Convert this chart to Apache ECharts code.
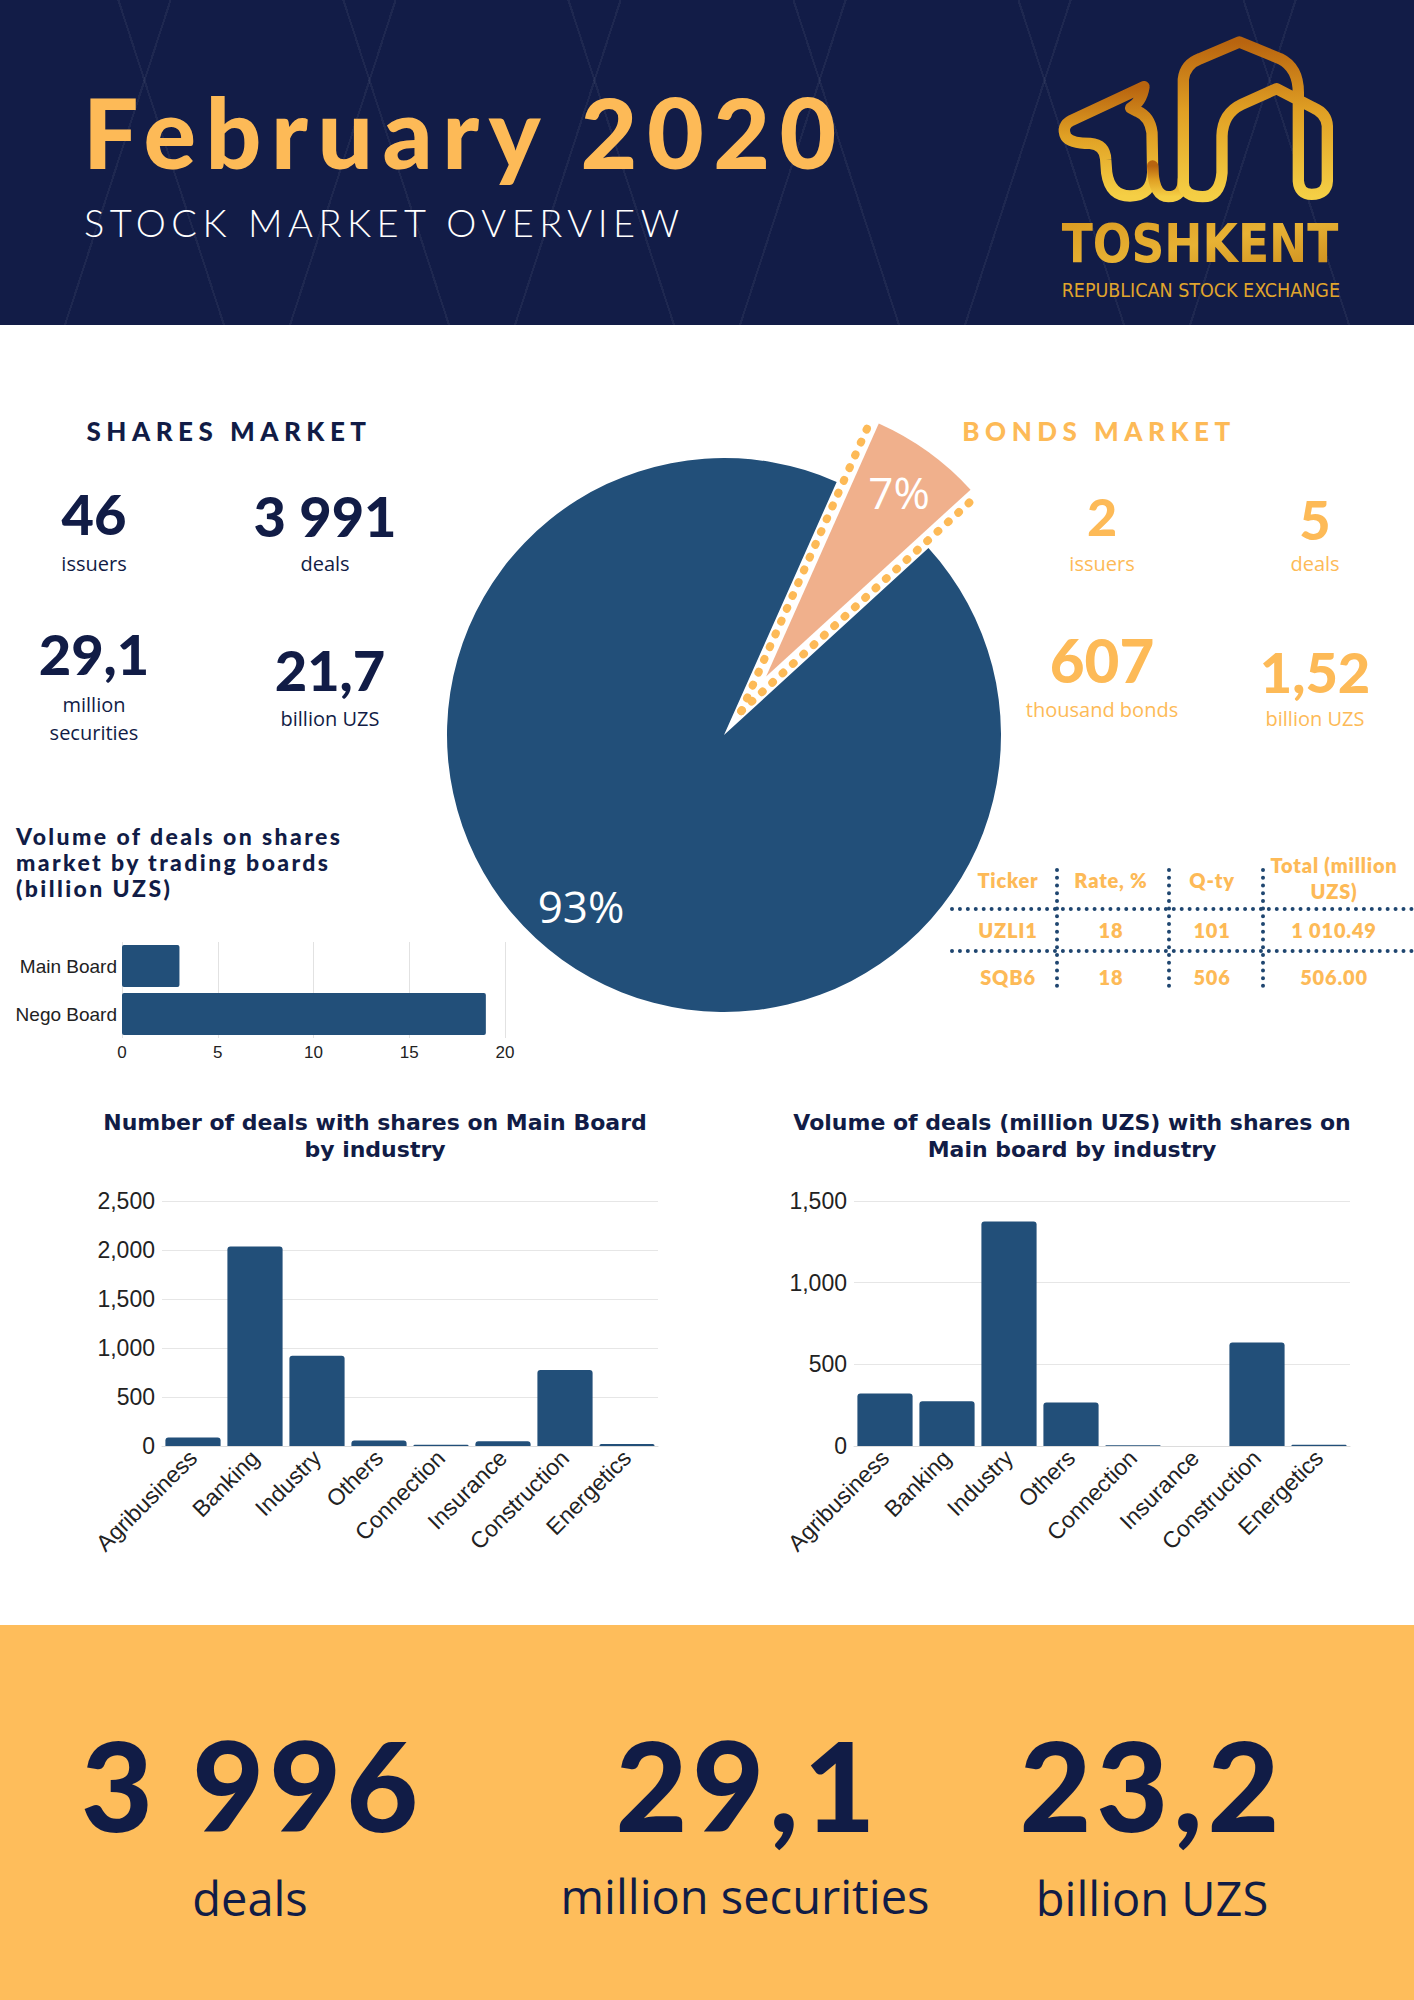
<!DOCTYPE html>
<html>
<head>
<meta charset="utf-8">
<script src="https://cdn.jsdelivr.net/npm/echarts@6/dist/echarts.min.js"></script>
<style>
  body { margin: 0; width: 1414px; height: 2000px; position: relative; overflow: hidden; background: #fff; font-family: Lato, sans-serif; }
  .abs { position: absolute; }
  .c { position: absolute; transform: translate(-50%, -50%); white-space: nowrap; line-height: 1; }
  .num { font-family: Lato, sans-serif; font-weight: 900; color: #111c46; }
  .lbl { font-family: 'Open Sans', sans-serif; font-size: 20px; color: #111c46; }
  .orange { color: #fdba57; }
  .head { font-family: Lato, sans-serif; font-weight: 900; font-size: 26px; letter-spacing: 5.5px; }
  .tb { font-family: Lato, sans-serif; font-weight: 800; font-size: 20px; letter-spacing: 0.8px; color: #fdba57; text-align: center; }
  .hdot { position: absolute; left: 950px; width: 464px; height: 0; border-top: 4px dotted #1f4670; }
  .vdot { position: absolute; top: 868px; height: 120px; width: 0; border-left: 4px dotted #1f4670; }
  #header {
    left: 0; top: 0; width: 1414px; height: 325px; background-color: #121c47;
    background-image:
      repeating-linear-gradient(72deg, rgba(255,255,255,0) 0 212px, rgba(255,255,255,0.05) 212px 214px),
      repeating-linear-gradient(-72deg, rgba(255,255,255,0) 0 212px, rgba(255,255,255,0.05) 212px 214px);
  }
  #banner { left: 0; top: 1625px; width: 1414px; height: 375px; background: #febd5b; }
  .big { font-family: Lato, sans-serif; font-weight: 900; font-size: 124px; letter-spacing: 5px; color: #111c46; }
  .bigl { font-family: 'Open Sans', sans-serif; font-size: 47px; color: #111c46; }
</style>
</head>
<body>
<div id="header" class="abs"></div>
<div class="abs" style="left:83px;top:82px;font-family:Lato;font-weight:900;font-size:98px;letter-spacing:9.5px;color:#fdba57;line-height:1;">February 2020</div>
<div class="abs" style="left:84px;top:203px;font-family:Lato;font-weight:300;font-size:38px;letter-spacing:5.5px;color:#fff;line-height:1;">STOCK MARKET OVERVIEW</div>

<svg class="abs" style="left:1040px;top:26px" width="320" height="290" viewBox="0 0 960 870">
  <defs>
    <linearGradient id="gold" x1="0" y1="0" x2="0" y2="1">
      <stop offset="0" stop-color="#b8640f"/>
      <stop offset="0.45" stop-color="#e0a024"/>
      <stop offset="1" stop-color="#f5cf45"/>
    </linearGradient>
    <linearGradient id="goldt" x1="0" y1="0" x2="1" y2="1">
      <stop offset="0" stop-color="#d9981f"/>
      <stop offset="0.5" stop-color="#e8b234"/>
      <stop offset="1" stop-color="#c98a1c"/>
    </linearGradient>
  </defs>
  <g fill="none" stroke="url(#gold)" stroke-width="34" stroke-linecap="round" stroke-linejoin="round">
    <path d="M312,182 L95,283 Q62,300 78,332 Q92,352 150,352 Q195,356 197,400 L200,440 Q210,510 270,510 Q335,510 338,440 L336,320 Q330,272 292,256 L272,246 Q305,228 312,182"/>
    <path d="M338,420 Q340,512 385,512 Q430,512 430,460"/>
    <path d="M430,470 L430,160 Q435,115 480,98 L598,48 L720,98 Q775,125 775,200 L775,465 Q778,505 815,505 Q860,505 862,465 L862,300 Q860,262 820,245 L710,188 L605,235 Q548,262 546,330 L546,440 Q540,512 488,512 Q430,512 430,470"/>
  </g>
  <text x="65" y="709" textLength="830" lengthAdjust="spacingAndGlyphs" font-family="DejaVu Sans Condensed, DejaVu Sans" font-weight="bold" font-size="158" fill="url(#goldt)">TOSHKENT</text>
  <text x="65" y="814" textLength="835" lengthAdjust="spacingAndGlyphs" font-family="DejaVu Sans Condensed, DejaVu Sans" font-size="56" fill="#e0a52c">REPUBLICAN STOCK EXCHANGE</text>
</svg>

<div id="pie" class="abs" style="left:400px;top:380px;width:660px;height:680px;"></div>

<div class="c head" style="left:229px;top:431px;color:#111c46;">SHARES MARKET</div>
<div class="c num" style="left:94px;top:514px;font-size:56px;">46</div>
<div class="c lbl" style="left:94px;top:564px;">issuers</div>
<div class="c num" style="left:325px;top:516px;font-size:56px;">3 991</div>
<div class="c lbl" style="left:325px;top:564px;">deals</div>
<div class="c num" style="left:94px;top:654px;font-size:56px;">29,1</div>
<div class="c lbl" style="left:94px;top:705px;">million</div>
<div class="c lbl" style="left:94px;top:733px;">securities</div>
<div class="c num" style="left:330px;top:670px;font-size:56px;">21,7</div>
<div class="c lbl" style="left:330px;top:719px;">billion UZS</div>

<div class="c head orange" style="left:1099px;top:431px;">BONDS MARKET</div>
<div class="c num orange" style="left:1102px;top:516px;font-size:52px;">2</div>
<div class="c lbl orange" style="left:1102px;top:564px;">issuers</div>
<div class="c num orange" style="left:1315px;top:520px;font-size:54px;">5</div>
<div class="c lbl orange" style="left:1315px;top:564px;">deals</div>
<div class="c num orange" style="left:1102px;top:660px;font-size:60px;">607</div>
<div class="c lbl orange" style="left:1102px;top:710px;">thousand bonds</div>
<div class="c num orange" style="left:1315px;top:672px;font-size:56px;">1,52</div>
<div class="c lbl orange" style="left:1315px;top:719px;">billion UZS</div>

<div class="hdot" style="top:907px;"></div>
<div class="hdot" style="top:949px;"></div>
<div class="vdot" style="left:1055px;"></div>
<div class="vdot" style="left:1167px;"></div>
<div class="vdot" style="left:1261px;"></div>
<div class="c tb" style="left:1008px;top:880px;">Ticker</div>
<div class="c tb" style="left:1111px;top:880px;">Rate, %</div>
<div class="c tb" style="left:1212px;top:880px;">Q-ty</div>
<div class="c tb" style="left:1334px;top:865px;">Total (million</div>
<div class="c tb" style="left:1334px;top:891px;">UZS)</div>
<div class="c tb" style="left:1008px;top:930px;">UZLI1</div>
<div class="c tb" style="left:1111px;top:930px;">18</div>
<div class="c tb" style="left:1212px;top:930px;">101</div>
<div class="c tb" style="left:1334px;top:930px;">1 010.49</div>
<div class="c tb" style="left:1008px;top:977px;">SQB6</div>
<div class="c tb" style="left:1111px;top:977px;">18</div>
<div class="c tb" style="left:1212px;top:977px;">506</div>
<div class="c tb" style="left:1334px;top:977px;">506.00</div>

<div class="abs" style="left:16px;top:823px;font-family:Lato;font-weight:900;font-size:23px;line-height:26px;letter-spacing:2.4px;color:#111c46;">Volume of deals on shares<br>market by trading boards<br>(billion UZS)</div>
<div id="boards" class="abs" style="left:0;top:920px;width:560px;height:150px;"></div>

<div id="deals" class="abs" style="left:55px;top:1090px;width:640px;height:520px;"></div>
<div id="volume" class="abs" style="left:752px;top:1090px;width:640px;height:520px;"></div>

<div id="banner" class="abs"></div>
<div class="c big" style="left:252px;top:1784px;">3 996</div>
<div class="c bigl" style="left:250px;top:1898px;">deals</div>
<div class="c big" style="left:748px;top:1784px;">29,1</div>
<div class="c bigl" style="left:745px;top:1896px;">million securities</div>
<div class="c big" style="left:1152px;top:1784px;">23,2</div>
<div class="c bigl" style="left:1152px;top:1898px;">billion UZS</div>

<script>
// market split (billion UZS)
const marketNames = ['Bonds', 'Shares'];
const marketVolume = [1.52, 21.7];

// trading boards (billion UZS)
const boardNames = ['Main Board', 'Nego Board'];
const boardVolume = [3.0, 19.0];

// main board by industry
const industries = ['Agribusiness', 'Banking', 'Industry', 'Others', 'Connection', 'Insurance', 'Construction', 'Energetics'];
const dealsCount = [88, 2035, 920, 55, 14, 48, 775, 20];
const dealsVolume = [322, 274, 1375, 266, 4, 0.5, 633, 7];

const navy = '#224f79';
const ink = '#222';
const axisFont = 'Liberation Sans, Arial, sans-serif';

// pie
const pieChart = echarts.init(document.getElementById('pie'), null, { renderer: 'svg' });
const pieR = 277;
const startAngle = 66;
const offset = 72;
const total = marketVolume.reduce((a, b) => a + b, 0);
const bondSweep = 360 * marketVolume[0] / total;
const edgeA = startAngle;
const edgeB = startAngle - bondSweep;
const mid = (edgeA + edgeB) / 2 * Math.PI / 180;
const cx = 324, cy = 355;
const vx = cx + 0.41 * offset * Math.cos(mid);
const vy = cy - 0.41 * offset * Math.sin(mid);
const dotLen = 315;

const pieData = marketNames.map((n, i) => ({
  name: n, value: marketVolume[i], selected: i === 0,
  itemStyle: { color: i === 0 ? '#f0b08c' : navy }
}));

pieChart.setOption({
  animation: false,
  polar: { center: [vx, vy], radius: dotLen },
  angleAxis: { type: 'value', min: 0, max: 360, startAngle: 0, clockwise: false, show: false },
  radiusAxis: { type: 'value', min: 0, max: dotLen, show: false },
  series: [
    {
      type: 'pie', center: [cx, cy], radius: pieR, startAngle: startAngle,
      selectedMode: 'single', selectedOffset: offset, silent: true,
      label: { show: false }, labelLine: { show: false },
      emphasis: { disabled: true },
      data: pieData
    },
    {
      type: 'pie', center: [cx, cy], radius: [pieR * 0.62, pieR], startAngle: startAngle,
      selectedMode: 'single', selectedOffset: offset, silent: true, percentPrecision: 0,
      itemStyle: { color: 'rgba(0,0,0,0)' },
      label: { show: true, position: 'inside', formatter: '{d}%', color: '#fff', fontSize: 44, fontFamily: 'Open Sans' },
      labelLine: { show: false },
      labelLayout: p => p.dataIndex === 1 ? { dx: -10, dy: -13 } : {},
      emphasis: { disabled: true },
      data: marketNames.map((n, i) => ({ name: n, value: marketVolume[i], selected: i === 0 }))
    },
    ...[edgeA, edgeB].map(a => ({
      type: 'line', coordinateSystem: 'polar', showSymbol: false, silent: true,
      lineStyle: { color: '#fdba57', width: 8, type: [1, 13], cap: 'round' },
      data: [[0, a], [dotLen, a]]
    }))
  ]
});

// trading boards
const boardChart = echarts.init(document.getElementById('boards'), null, { renderer: 'svg' });
boardChart.setOption({
  animation: false,
  grid: { left: 122, top: 22, width: 383, height: 96 },
  xAxis: {
    type: 'value', min: 0, max: 20, interval: 5,
    axisLine: { show: false }, axisTick: { show: false },
    axisLabel: { fontSize: 17, color: ink, fontFamily: axisFont, margin: 6 },
    splitLine: { lineStyle: { color: '#e2e2e2' } }
  },
  yAxis: {
    type: 'category', data: boardNames, inverse: true,
    axisLine: { show: false }, axisTick: { show: false },
    axisLabel: { fontSize: 19, color: ink, fontFamily: axisFont, margin: 5 }
  },
  series: [{
    type: 'bar', data: boardVolume, barCategoryGap: '12%',
    itemStyle: { color: navy, borderRadius: 2 }
  }]
});

function columnOption(title, values, max, interval, gridLeft) {
  return {
    animation: false,
    title: {
      text: title, left: 'center', top: 14,
      textStyle: { fontFamily: 'DejaVu Sans', fontWeight: 'bold', fontSize: 22, lineHeight: 27, color: '#111c46' }
    },
    grid: { left: gridLeft, top: 111, width: 496, height: 245 },
    xAxis: {
      type: 'category', data: industries,
      axisLine: { lineStyle: { color: '#dcdcdc' } }, axisTick: { show: false },
      axisLabel: { rotate: 45, interval: 0, fontSize: 23, color: ink, fontFamily: axisFont, margin: 8 }
    },
    yAxis: {
      type: 'value', min: 0, max: max, interval: interval,
      axisLine: { show: false }, axisTick: { show: false },
      axisLabel: { fontSize: 23, color: ink, fontFamily: axisFont, margin: 7 },
      splitLine: { lineStyle: { color: '#e6e6e6' } }
    },
    series: [{
      type: 'bar', data: values, barCategoryGap: '11%',
      itemStyle: { color: navy, borderRadius: [3, 3, 0, 0] }
    }]
  };
}

echarts.init(document.getElementById('deals'), null, { renderer: 'svg' })
  .setOption(columnOption('Number of deals with shares on Main Board\nby industry', dealsCount, 2500, 500, 107));
echarts.init(document.getElementById('volume'), null, { renderer: 'svg' })
  .setOption(columnOption('Volume of deals (million UZS) with shares on\nMain board by industry', dealsVolume, 1500, 500, 102));
</script>
</body>
</html>
